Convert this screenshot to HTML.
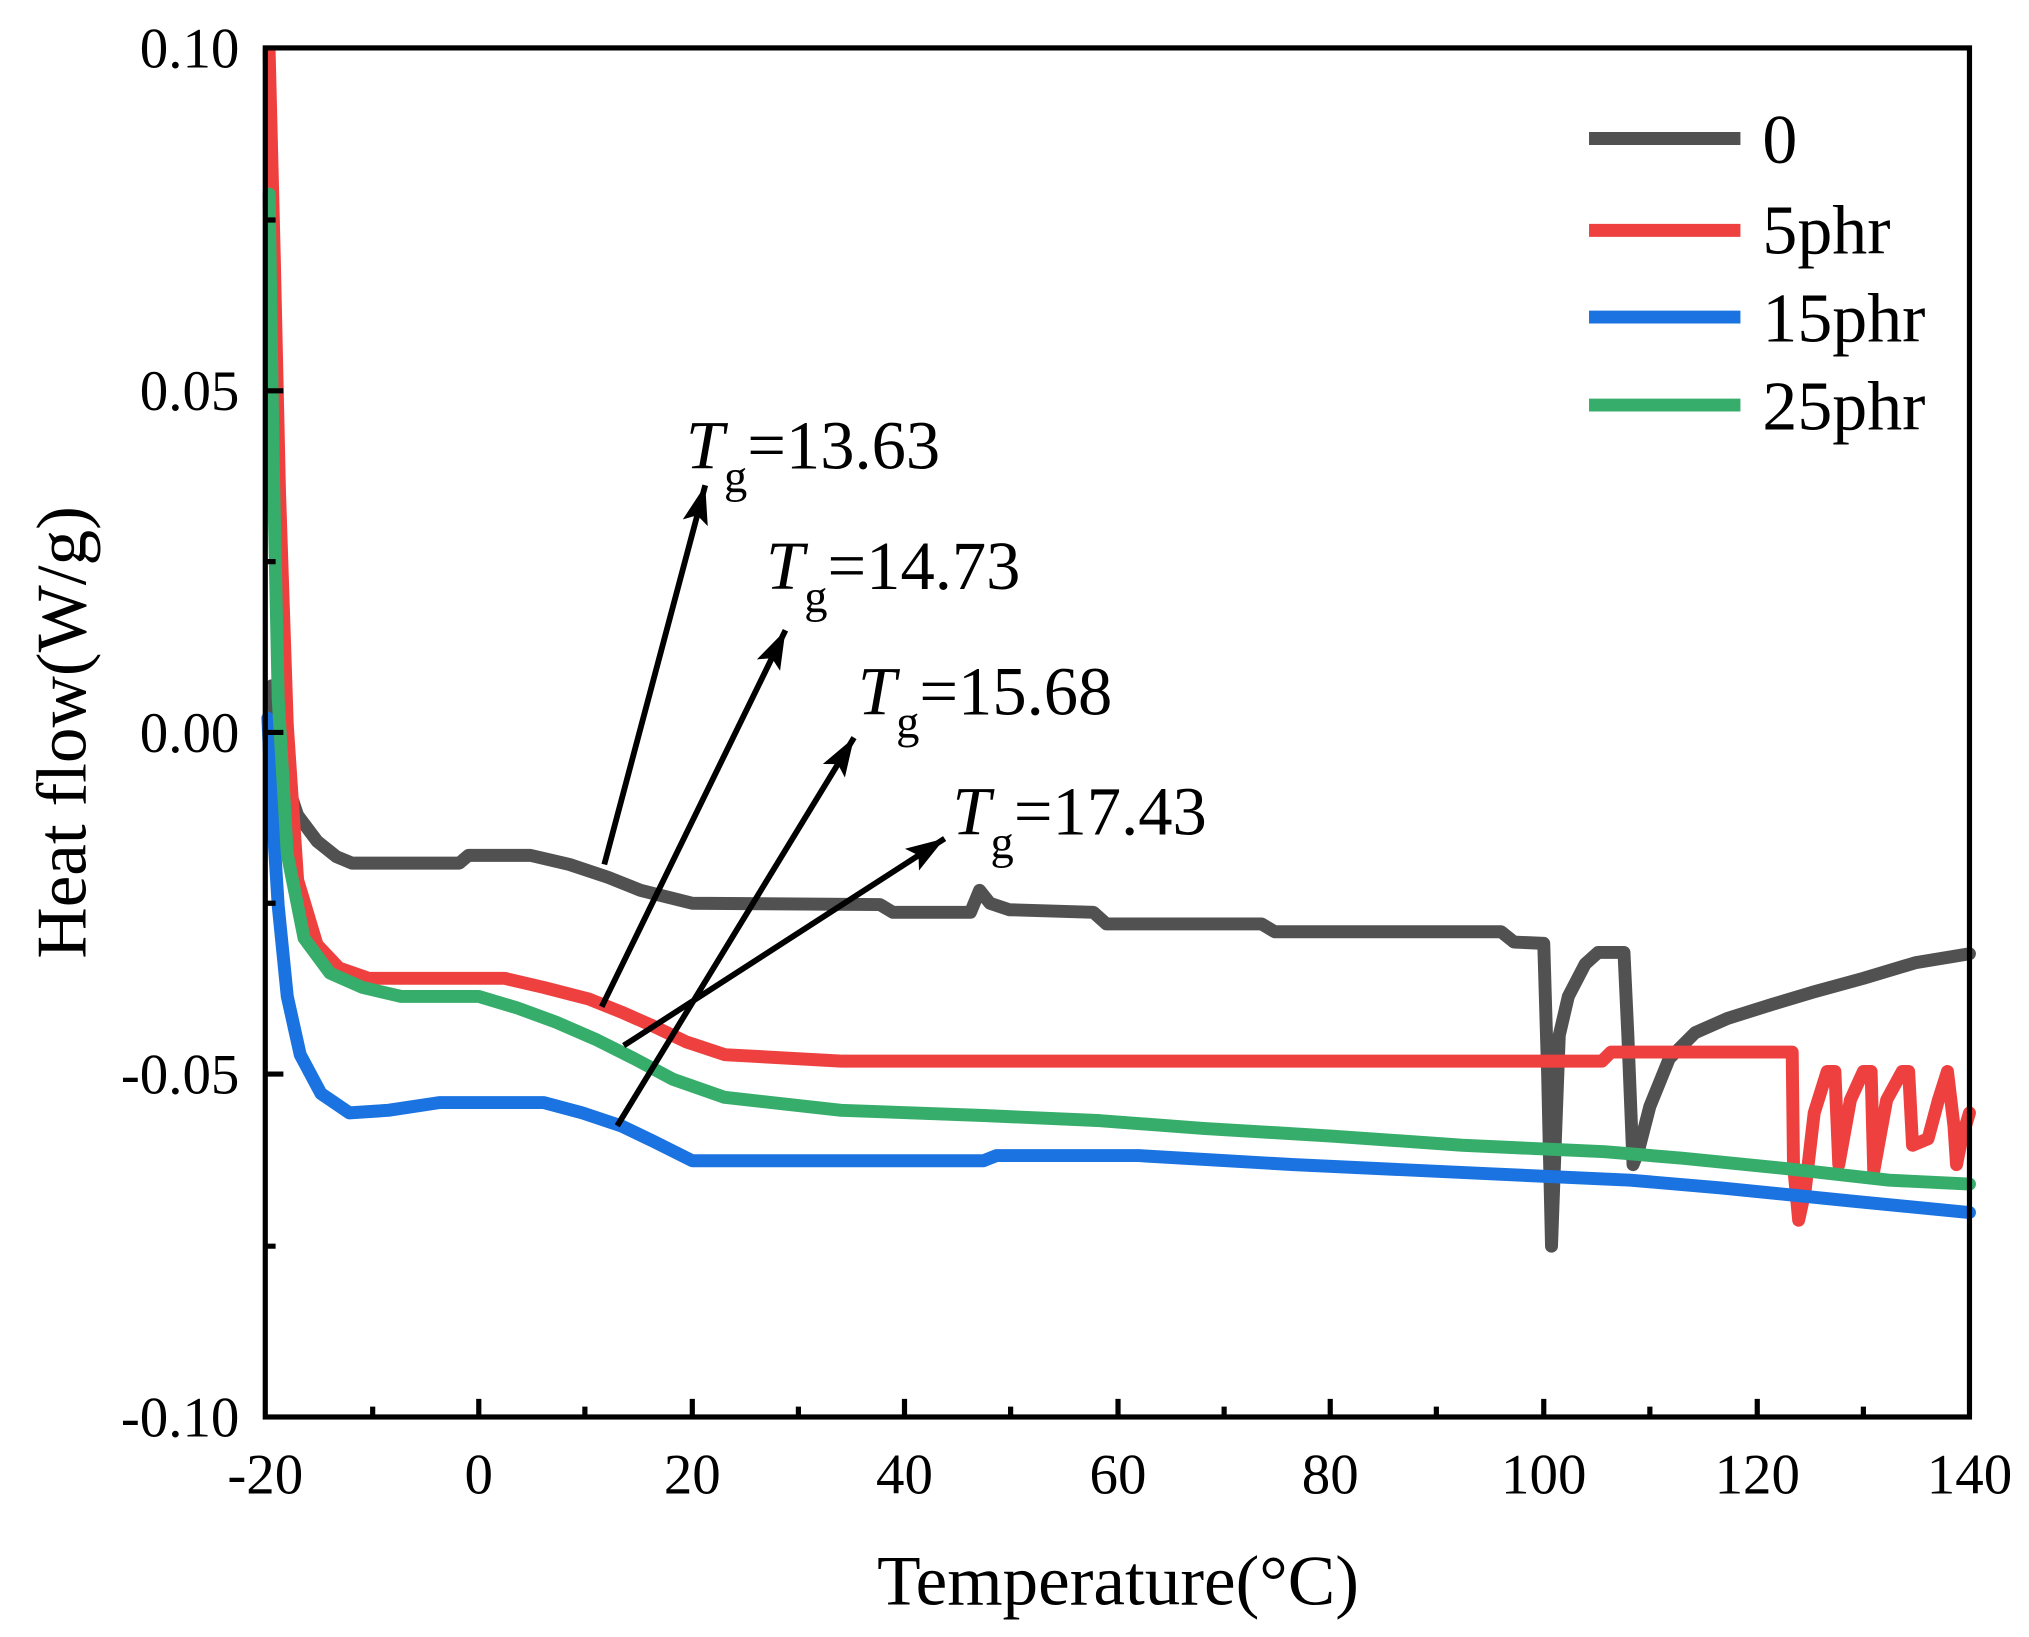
<!DOCTYPE html>
<html><head><meta charset="utf-8"><style>html,body{margin:0;padding:0;background:#fff}svg{display:block}</style></head><body>
<svg width="2029" height="1637" viewBox="0 0 1568 1265" xmlns="http://www.w3.org/2000/svg" font-family="Liberation Serif, serif">
<defs>
<marker id="a2" viewBox="0 0 30 20" refX="30" refY="10" markerWidth="30" markerHeight="20" orient="auto" markerUnits="userSpaceOnUse"><path d="M0,0 L30,10 L0,20 L6,10 Z" fill="#000"/></marker></defs>
<g fill="none" stroke-width="10" stroke-linejoin="round" stroke-linecap="round">
<path stroke="#515151" d="M210,530 L213,560 L220,600 L230,630 L245,650 L260,662 L272,667 L355,667 L362,661 L410,661 L440,668 L470,678 L495,688 L515,693 L535,698 L680,699 L690,705 L750,705 L757,688 L765,698 L780,703 L845,705 L855,714 L975,714 L985,720 L1160,720 L1170,728 L1193,729 L1196,830 L1199,963 L1202,880 L1205,800 L1212,770 L1225,745 L1235,736 L1255,736 L1258,800 L1262,900 L1266,890 L1275,855 L1290,818 L1310,798 L1335,787 L1370,776 L1400,767 L1440,756 L1480,744 L1522,737"/>
<path stroke="#ef4040" d="M208,40 L212,200 L216,380 L222,560 L230,680 L245,730 L262,748 L285,756 L390,756 L420,763 L455,772 L480,782 L505,793 L530,805 L560,815 L650,820 L1238,820 L1245,813 L1385,813 L1386,900 L1390,943 L1395,920 L1402,860 L1412,828 L1418,828 L1421,900 L1430,850 L1440,828 L1446,828 L1448,905 L1458,850 L1470,828 L1475,828 L1478,885 L1490,880 L1498,850 L1505,828 L1510,870 L1512,900 L1516,880 L1522,860"/>
<path stroke="#1a73e0" d="M207,555 L210,620 L215,700 L222,770 L232,815 L248,845 L270,860 L300,858 L340,852 L420,852 L450,860 L480,870 L505,882 L535,897 L760,897 L770,893 L880,893 L1000,900 L1150,907 L1260,912 L1330,918 L1430,928 L1522,937"/>
<path stroke="#37ad6b" d="M208,150 L211,350 L215,540 L222,660 L235,725 L255,752 L280,763 L310,770 L370,770 L400,779 L430,790 L460,803 L490,818 L520,834 L560,848 L650,858 L760,862 L850,866 L930,872 L1030,878 L1130,885 L1240,890 L1300,895 L1380,903 L1460,912 L1522,915"/>
</g>
<g stroke="#000" stroke-width="4" fill="none">
<rect x="205" y="37" width="1317" height="1058"/>
<path d="M370,1095v-14M535,1095v-14M699,1095v-14M864,1095v-14M1028,1095v-14M1193,1095v-14M1358,1095v-14M288,1095v-8M452,1095v-8M617,1095v-8M781,1095v-8M946,1095v-8M1110,1095v-8M1275,1095v-8M1440,1095v-8"/>
<path d="M205,302h14M205,566h14M205,830h14M205,170h8M205,434h8M205,698h8M205,963h8"/>
</g>
<g stroke="#000" stroke-width="4.5">
<line x1="467" y1="668" x2="545" y2="375" marker-end="url(#a2)"/>
<line x1="465" y1="778" x2="607" y2="487" marker-end="url(#a2)"/>
<line x1="477" y1="870" x2="660" y2="570" marker-end="url(#a2)"/>
<line x1="482" y1="808" x2="730" y2="648" marker-end="url(#a2)"/>
</g>
<g font-size="53" fill="#000">
<text x="530" y="362"><tspan font-style="italic">T</tspan><tspan font-size="36" dy="18">g</tspan><tspan dy="-18">=13.63</tspan></text>
<text x="592" y="455"><tspan font-style="italic">T</tspan><tspan font-size="36" dy="18">g</tspan><tspan dy="-18">=14.73</tspan></text>
<text x="663" y="552"><tspan font-style="italic">T</tspan><tspan font-size="36" dy="18">g</tspan><tspan dy="-18">=15.68</tspan></text>
<text x="736" y="645"><tspan font-style="italic">T</tspan><tspan font-size="36" dy="18">g</tspan><tspan dy="-18">=17.43</tspan></text>
</g>
<g stroke-width="10"><line x1="1228" y1="107" x2="1345" y2="107" stroke="#515151"/><line x1="1228" y1="178" x2="1345" y2="178" stroke="#ef4040"/><line x1="1228" y1="245" x2="1345" y2="245" stroke="#1a73e0"/><line x1="1228" y1="313" x2="1345" y2="313" stroke="#37ad6b"/></g>
<g font-size="54" fill="#000"><text x="1362" y="126">0</text><text x="1362" y="196">5phr</text><text x="1362" y="264">15phr</text><text x="1362" y="332">25phr</text></g>
<g font-size="44" fill="#000" text-anchor="end"><text x="185" y="52">0.10</text><text x="185" y="317">0.05</text><text x="185" y="581">0.00</text><text x="185" y="845">-0.05</text><text x="185" y="1110">-0.10</text></g>
<g font-size="44" fill="#000" text-anchor="middle"><text x="205" y="1154">-20</text><text x="370" y="1154">0</text><text x="535" y="1154">20</text><text x="699" y="1154">40</text><text x="864" y="1154">60</text><text x="1028" y="1154">80</text><text x="1193" y="1154">100</text><text x="1358" y="1154">120</text><text x="1522" y="1154">140</text></g>
<text x="864" y="1240" font-size="55" text-anchor="middle">Temperature(°C)</text>
<text transform="translate(66,566) rotate(-90)" font-size="55" text-anchor="middle">Heat flow(W/g)</text>
</svg>
</body></html>
